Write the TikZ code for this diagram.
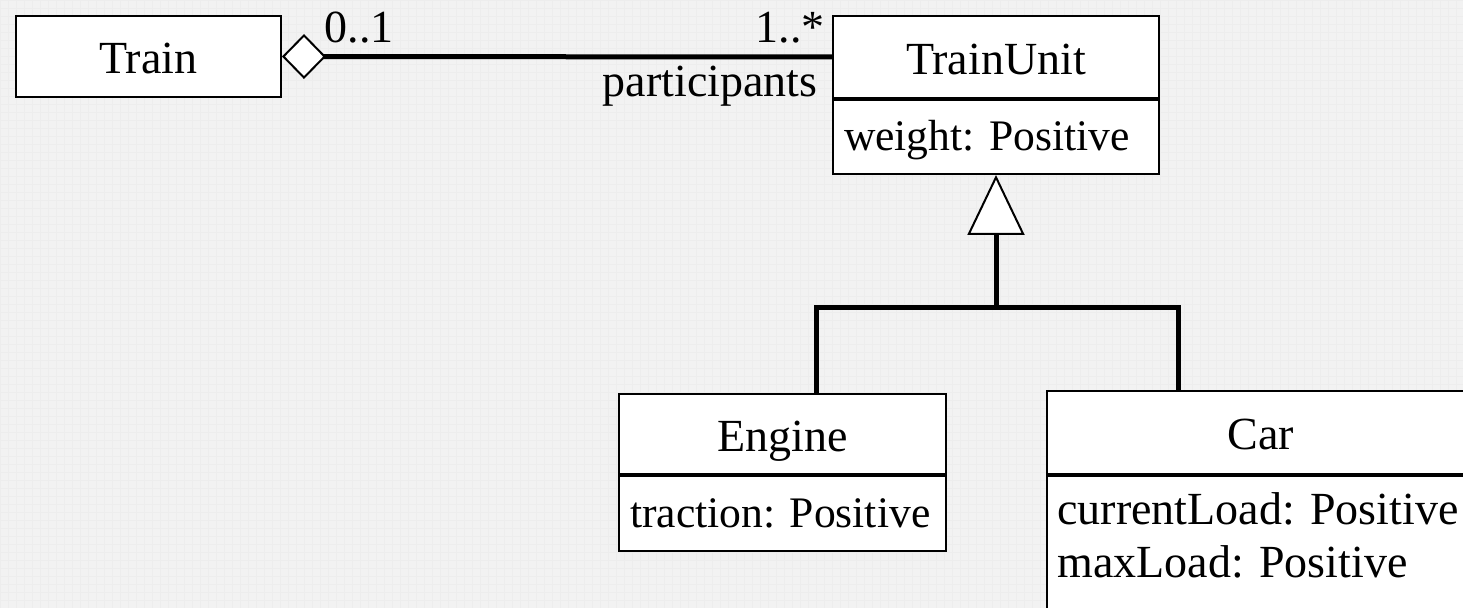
\documentclass[tikz,border=0pt]{standalone}
\usepackage{fontspec}
\setmainfont{Liberation Serif}
\usetikzlibrary{positioning, arrows.meta}

\begin{document}
\begin{tikzpicture}
    [x=0.5pt, y=-0.5pt,
     every node/.style={font=\fontsize{23}{26.5}\selectfont},
     classname/.style={draw, line width=1pt, fill=white, inner sep=0pt, anchor=north west,
       text height=17.5pt, text depth=0pt},
     attrs/.style={draw, line width=1pt, fill=white, inner ysep=0pt, inner xsep=5.5pt, anchor=north,
       text height=14pt, text depth=0pt, font=\fontsize{21.8}{26.5}\selectfont},
     attrtext/.style={align=left, inner sep=0pt},
     mult/.style={inner sep=0pt},
     assoc/.style={line width=2.5pt, {Diamond[fill=white, length=22pt, width=22.5pt, line width=1pt]}-},
     inherit/.style={line width=2.5pt, -{Triangle[fill=white, length=30pt, width=28.5pt, line width=1pt]}}]

    % background
    \useasboundingbox (0,0) rectangle (1463,608);
    \fill[black!5] (0,0) rectangle (1463,608);
    \draw[black!7, line width=0.3pt, step=4pt] (0,0) grid (1463,608);

    % classes
    \node[classname, minimum width=132.5pt, minimum height=40.5pt] (train) at (15,15) {Train};

    \node[classname, minimum width=163pt, minimum height=41pt] (unit) at (832,15) {TrainUnit};
    \node[attrs, minimum width=163pt, minimum height=37pt, below=0pt of unit] (unitattr)
      {\makebox[152pt][l]{weight: Positive}};

    \node[classname, minimum width=163.5pt, minimum height=40pt] (engine) at (618,393) {Engine};
    \node[attrs, minimum width=163.5pt, minimum height=37.5pt, below=0pt of engine] (engineattr)
      {\makebox[152.5pt][l]{traction: Positive}};

    \node[classname, minimum width=214pt, minimum height=41.5pt] (car) at (1046,390) {Car};
    \node[attrs, minimum width=214pt, minimum height=90pt, below=0pt of car] (carattr) {};
    \node[attrtext, anchor=north west] (carlines) at ([xshift=5.5pt, yshift=-8.5pt]carattr.north west)
      {currentLoad: Positive\\maxLoad: Positive};

    % association
    \draw[assoc] (train.east) -- (unit.west)
      node[mult, pos=0, anchor=base west, xshift=20pt, yshift=7pt] {0..1}
      node[mult, pos=1, anchor=base east, xshift=-2.5pt, yshift=7pt] {1..*}
      node[mult, pos=1, anchor=base east, xshift=-6pt, yshift=-20pt] {participants};

    % generalization
    \coordinate (bus) at (unitattr.south |- 0,308);
    \draw[line width=2.5pt] ([xshift=16.75pt]engine.north) |- (bus)
      -| ([xshift=66pt]car.north west);
    \draw[inherit] (bus) -- (unitattr.south);
\end{tikzpicture}
\end{document}
